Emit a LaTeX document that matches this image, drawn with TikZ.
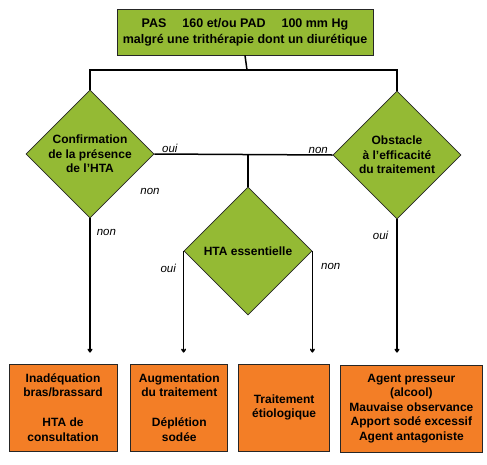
\documentclass[tikz,border=0pt]{standalone}
\usepackage{fontspec}
\setsansfont{Liberation Sans}
\usetikzlibrary{positioning}
\usetikzlibrary{shapes.geometric}
\usetikzlibrary{arrows.meta}
\definecolor{vert}{RGB}{148,186,52}
\definecolor{orangebox}{RGB}{243,126,38}

\begin{document}
\begin{tikzpicture}[x=1pt, y=-1pt, line width=1.5pt, >={To[length=4pt,width=5pt]}, font=\sffamily\bfseries\fontsize{12}{14.5}\selectfont]
    \tikzstyle{head}=[draw=black!85, line width=0.8pt, rectangle, fill=vert, minimum width=256pt, minimum height=46pt, align=center, inner sep=0pt, font=\sffamily\bfseries\fontsize{12.5}{16}\selectfont]
    \tikzstyle{test}=[draw=black!85, line width=0.8pt, diamond, fill=vert, minimum width=128pt, minimum height=128pt, align=center, inner sep=-4pt]
    \tikzstyle{result}=[draw=black!85, line width=0.8pt, rectangle, fill=orangebox, minimum height=87pt, align=center, inner sep=0pt]
    \tikzstyle{answer}=[font=\sffamily\mdseries\itshape\fontsize{11.5}{13}\selectfont, inner sep=1pt]

    \useasboundingbox (0,0) rectangle (487,464);

    \node[head] (top) at (245,32) {PAS \quad 160 et/ou PAD \quad 100 mm Hg\\malgré une trithérapie dont un diurétique};
    \coordinate (split) at (247,70);
    \node[test] (conf) at (90,154) {Confirmation\\de la présence\\de l'HTA};
    \node[test] (obst) at (397,155) {Obstacle\\à l'efficacité\\du traitement};
    \node[test] (ess) at (248,251) {HTA essentielle};

    % results
    \node[result, minimum width=108pt] (b1) at (63,407.5) {Inadéquation\\bras/brassard\\[15.5pt]HTA de\\consultation};
    \node[result, minimum width=97pt, right=13pt of b1] (b2) {Augmentation\\du traitement\\[15.5pt]Déplétion\\sodée};
    \node[result, minimum width=91pt, right=10pt of b2] (b3) {Traitement\\étiologique};
    \node[result, minimum width=142pt, right=10pt of b3, yshift=-1pt] (b4) {Agent presseur\\(alcool)\\Mauvaise observance\\Apport sodé excessif\\Agent antagoniste};

    \draw (top.south) -- (split);
    \draw (conf.north) |- (split) -| (obst.north);
    \draw (conf.east) -- (obst.west);
    \draw (ess.north) -- (ess.north |- conf.east);
    \draw[->, shorten >=11pt] (conf.south) -- (conf.south |- b1.north);
    \draw[->, shorten >=11pt] (ess.west) -- (ess.west |- b2.north);
    \draw[->, shorten >=11pt] (ess.east) -- (ess.east |- b3.north);
    \draw[->, shorten >=12pt] (obst.south) -- (obst.south |- b4.north);

    \node[answer, above right=0pt and 6pt of conf.east] {oui};
    \node[answer, above left=0pt and 3pt of obst.west] {non};
    \node[answer] at (150,191) {non};
    \node[answer, below right=9pt and 5pt of conf.south] {non};
    \node[answer, below left=11pt and 6pt of ess.west] {oui};
    \node[answer, below right=11pt and 7pt of ess.east] {non};
    \node[answer, below left=10pt and 7pt of obst.south] {oui};
\end{tikzpicture}
\end{document}
